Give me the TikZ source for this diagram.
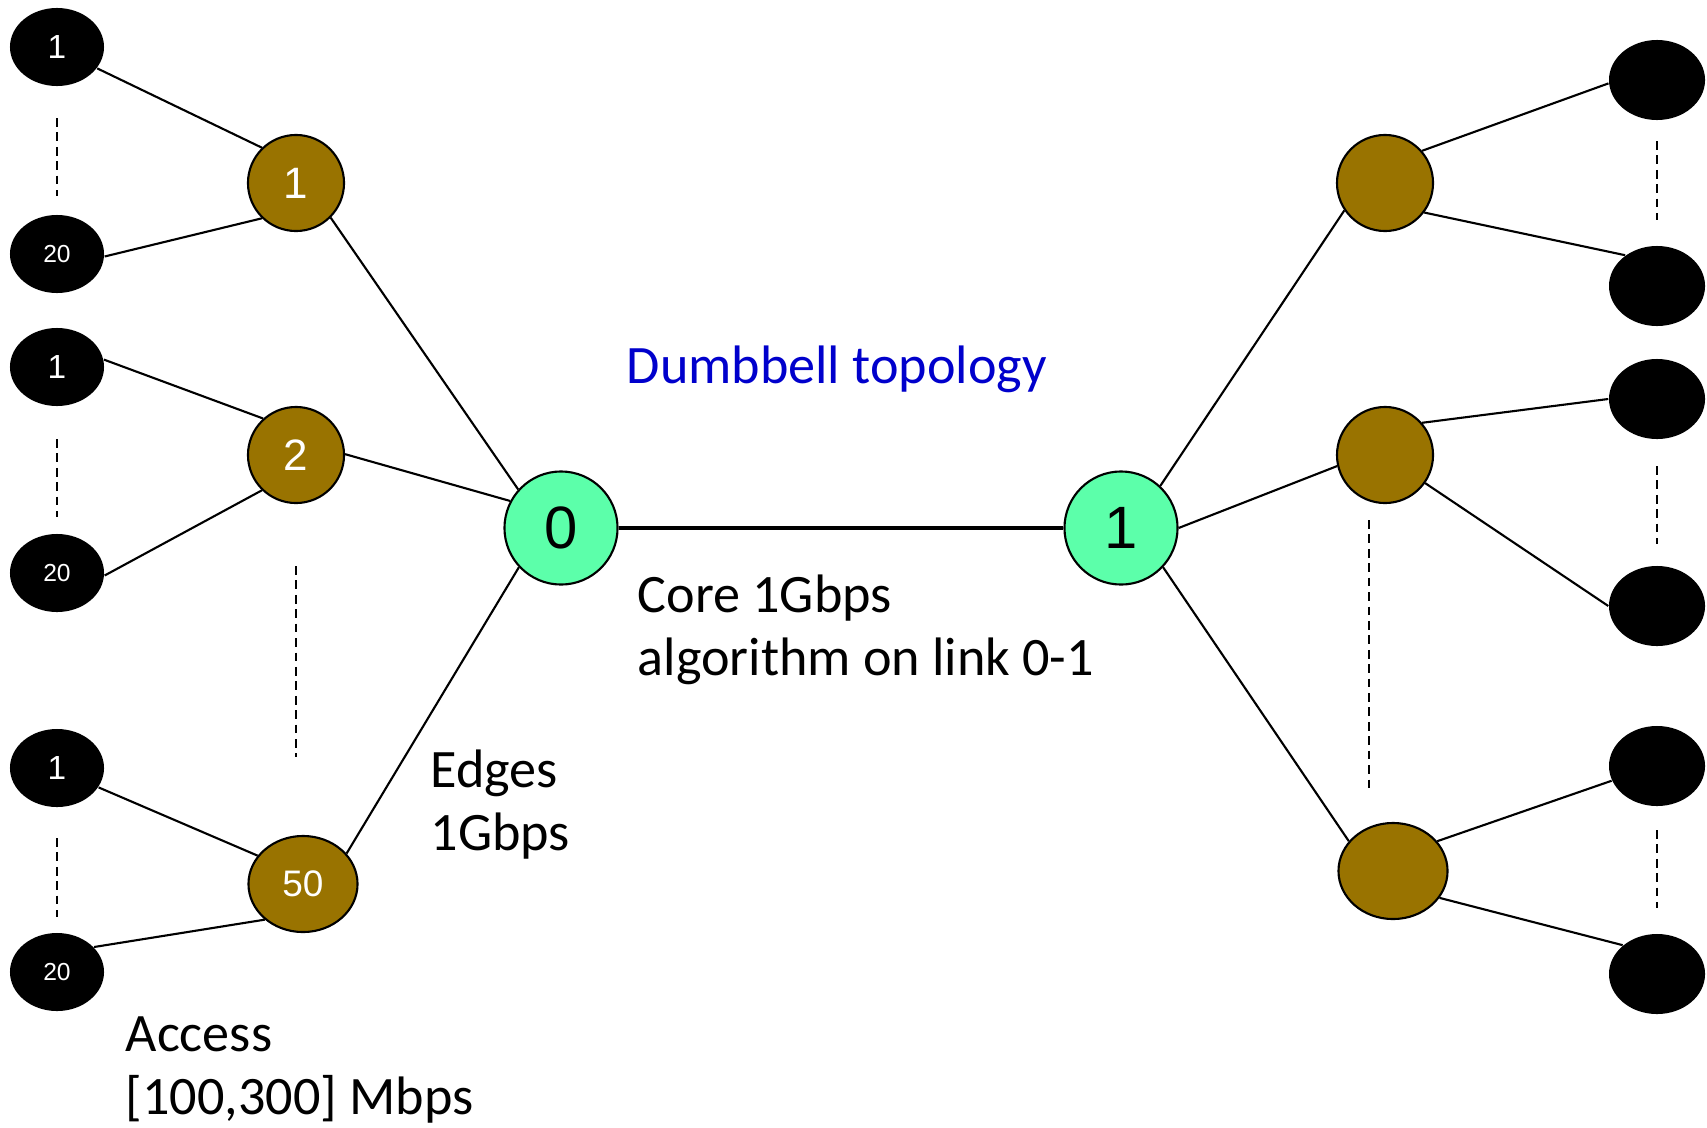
\documentclass[tikz,border=0pt]{standalone}
\usepackage{fontspec}
\setmainfont{Carlito}
\newfontfamily\arialfont{Liberation Sans}
\usetikzlibrary{shapes.geometric}
\definecolor{brownn}{RGB}{153,115,0}
\definecolor{greenn}{RGB}{92,255,170}
\definecolor{bluen}{RGB}{0,0,204}
\begin{document}
\begin{tikzpicture}[x=0.01cm,y=-0.01cm,
  host/.style={ellipse, fill=black, inner sep=0pt, minimum width=0.94cm, minimum height=0.78cm, text=white, font=\arialfont\fontsize{9.5}{10}\selectfont},
  hostsmall/.style={host, font=\arialfont\fontsize{7}{8}\selectfont},
  hostr/.style={ellipse, fill=black, inner sep=0pt, minimum width=0.96cm, minimum height=0.80cm},
  router/.style={circle, draw=black, line width=0.6pt, fill=brownn, minimum size=0.96cm, inner sep=0pt, text=white, font=\arialfont\fontsize{12.5}{14}\selectfont},
  routerwide/.style={ellipse, draw=black, line width=0.6pt, fill=brownn, minimum width=1.09cm, minimum height=0.96cm, inner sep=0pt, text=white, font=\arialfont\fontsize{10.5}{12}\selectfont},
  corenode/.style={circle, draw=black, line width=0.6pt, fill=greenn, minimum size=1.13cm, inner sep=0pt, font=\arialfont\fontsize{17}{20}\selectfont},
  link/.style={line width=0.6pt},
  corelink/.style={line width=0.9pt},
  dots/.style={line width=0.75pt, dash pattern=on 2.5pt off 1.6pt},
  lbl/.style={font=\fontsize{15.4}{17.9}\selectfont, align=left, inner sep=0pt, anchor=base west}]
\useasboundingbox[fill=white] (0,0) rectangle (1707,1127);

% left hosts
\node[host] (la1) at (57,47) {1};
\node[hostsmall] (la20) at (57,254) {20};
\node[host] (lb1) at (57,367) {1};
\node[hostsmall] (lb20) at (57,573) {20};
\node[host] (lc1) at (57,768) {1};
\node[hostsmall] (lc20) at (57,972) {20};

% left routers
\node[router] (r1) at (296,183) {1};
\node[router] (r2) at (296,455) {2};
\node[routerwide] (r50) at (303,884) {50};

% core
\node[corenode] (c0) at (561,528) {0};
\node[corenode] (c1) at (1121,528) {1};

% right routers
\node[router] (s1) at (1385,183) {};
\node[router] (s2) at (1385,455) {};
\node[routerwide] (s3) at (1393,871) {};

% right hosts
\node[hostr] (ra1) at (1657,80) {};
\node[hostr] (ra2) at (1657,286) {};
\node[hostr] (rb1) at (1657,399) {};
\node[hostr] (rb2) at (1657,606) {};
\node[hostr] (rc1) at (1657,766) {};
\node[hostr] (rc2) at (1657,974) {};

% dashed ellipsis markers
\coordinate (d1a) at (57,118); \coordinate (d1b) at (57,196);
\coordinate (d2a) at (57,439); \coordinate (d2b) at (57,517);
\coordinate (d3a) at (57,838); \coordinate (d3b) at (57,917);
\coordinate (d4a) at (296,566); \coordinate (d4b) at (296,757);
\coordinate (e1a) at (1657,141); \coordinate (e1b) at (1657,220);
\coordinate (e2a) at (1657,466); \coordinate (e2b) at (1657,544);
\coordinate (e3a) at (1657,830); \coordinate (e3b) at (1657,908);
\coordinate (e4a) at (1369,520); \coordinate (e4b) at (1369,791);
\foreach \a/\b in {d1a/d1b,d2a/d2b,d3a/d3b,d4a/d4b,e1a/e1b,e2a/e2b,e3a/e3b,e4a/e4b}
  \draw[dots] (\a) -- (\b);

% links
\draw[link] (la1.-28) -- (r1.134);
\draw[link] (la20.-3) -- (r1.226);
\draw[link] (lb1.9) -- (r2.132);
\draw[link] (lb20.-3) -- (r2.226);
\draw[link] (lc1.-25) -- (r50.148);
\draw[link] (lc20.34) -- (r50.223);
\draw[link] (r1.-45) -- (c0.138);
\draw[link] (r2.1) -- (c0.152);
\draw[link] (r50.35) -- (c0.223);
\draw[corelink] (c0.east) -- (c1.west);
\draw[link] (c1.47) -- (s1.214);
\draw[link] (c1.east) -- (s2.193);
\draw[link] (c1.-43) -- (s3.146);
\draw[link] (s1.41) -- (ra1.184);
\draw[link] (s1.-37) -- (ra2.136);
\draw[link] (s2.41) -- (rb1.180);
\draw[link] (s2.-35) -- (rb2.180);
\draw[link] (s3.34) -- (rc1.198);
\draw[link] (s3.-30) -- (rc2.140);

% labels (base anchor = baseline of last line)
\node[lbl, text=bluen] (title) at (626,383) {Dumbbell topology};
\node[lbl] (corelbl) at (637,675) {Core 1Gbps\\algorithm on link 0-1};
\node[lbl] (edgelbl) at (430,850) {Edges\\1Gbps};
\node[lbl] (acclbl) at (125,1114) {Access\\{[100,300]} Mbps};
\end{tikzpicture}
\end{document}
